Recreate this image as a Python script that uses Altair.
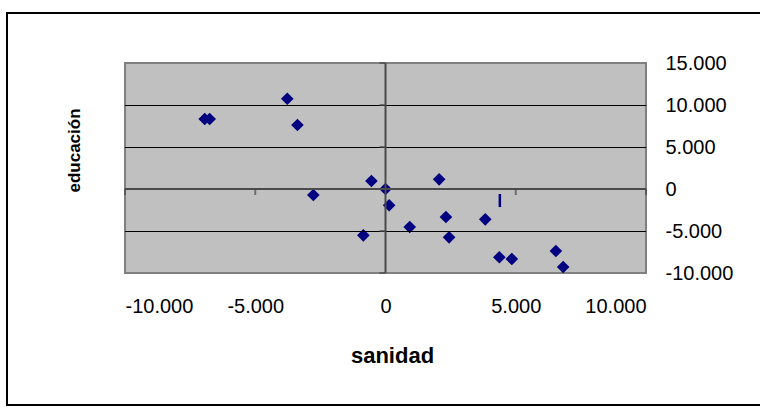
import altair as alt
import pandas as pd

# data
sanidad = [-6940, -6750, -3770, -3380, -2770, -540, 0, 140, 930, -850,
           2060, 2320, 2440, 3830, 4370, 4850, 6540, 6820]
educacion = [8330, 8330, 10750, 7620, -710, 950, 0, -1940, -4520, -5520,
             1150, -3330, -5750, -3610, -8130, -8330, -7380, -9290]
x_ticks = [-10000, -5000, 0, 5000, 10000]
y_ticks = [-10000, -5000, 0, 5000, 10000, 15000]
grid_y = [-5000, 5000, 10000]
# small vertical bar drawn in the plot
bar_x = [4390]
bar_y1 = [-600]
bar_y2 = [-2150]

pts = pd.DataFrame({"sanidad": sanidad, "educacion": educacion})
grid_df = pd.DataFrame({"educacion": grid_y})
xt_df = pd.DataFrame({"sanidad": [v for v in x_ticks if v != 0], "educacion": 0})
yt_df = pd.DataFrame({"educacion": [v for v in y_ticks if v != 0], "sanidad": 0})
bar_df = pd.DataFrame({"sanidad": bar_x, "educacion": bar_y1, "educacion2": bar_y2})
zero_x = pd.DataFrame({"sanidad": [0]})
zero_y = pd.DataFrame({"educacion": [0]})
frame_df = pd.DataFrame({"a": [0]})

FONT = "Liberation Sans"
xs = alt.Scale(domain=[-10000, 10000], nice=False, zero=False)
ys = alt.Scale(domain=[-10000, 15000], nice=False, zero=False)

lbl = "(datum.value < 0 ? '-' : '') + replace(format(abs(datum.value), ','), ',', '.')"

x_axis = alt.Axis(values=x_ticks, labelExpr=lbl, domain=False, ticks=False, grid=False,
                  labelFont=FONT, labelFontSize=20, labelColor="#000000", labelPadding=23,
                  title="sanidad", titleFont=FONT, titleFontSize=22, titleFontWeight="bold",
                  titleColor="#000000", titleX=267, titleY=89, titleBaseline="alphabetic",
                  titleAlign="center")
y_axis = alt.Axis(values=y_ticks, labelExpr=lbl, orient="right", domain=False, ticks=False,
                  grid=False, labelFont=FONT, labelFontSize=20, labelColor="#000000",
                  labelPadding=19, labelAlign="left",
                  title="educación", titleFont=FONT, titleFontSize=17, titleFontWeight="bold",
                  titleColor="#000000", titleAngle=270, titleX=-567, titleY=87,
                  titleBaseline="alphabetic", titleAlign="center")


def X():
    return alt.X("sanidad:Q", scale=xs, axis=x_axis)


def Y():
    return alt.Y("educacion:Q", scale=ys, axis=y_axis)


points = alt.Chart(pts).mark_point(shape="diamond", filled=True, size=160, color="#000080",
                                   opacity=1).encode(x=X(), y=Y())

grid = alt.Chart(grid_df).mark_rule(color="#000000", strokeWidth=1, yOffset=0.5).encode(y=Y())

zero_h = alt.Chart(zero_y).mark_rule(color="#4a4a4a", strokeWidth=2).encode(y=Y())
zero_v = alt.Chart(zero_x).mark_rule(color="#4a4a4a", strokeWidth=2).encode(x=X())

xt = alt.Chart(xt_df).mark_tick(orient="vertical", size=6, yOffset=3, thickness=2,
                                color="#4a4a4a").encode(x=X(), y=Y())
yt = alt.Chart(yt_df).mark_tick(orient="horizontal", size=6, xOffset=-3, thickness=2,
                                color="#4a4a4a").encode(x=X(), y=Y())

bar = alt.Chart(bar_df).mark_rule(color="#000080", strokeWidth=2.5).encode(
    x=X(), y=Y(), y2="educacion2:Q")

# outer chart frame (open on the right, as in the reference)
frame_left = alt.Chart(frame_df).mark_rect(color="#000000", clip=False).encode(
    x=alt.value(-119), x2=alt.value(-117), y=alt.value(-51), y2=alt.value(343))
frame_top = alt.Chart(frame_df).mark_rect(color="#000000", clip=False).encode(
    x=alt.value(-119), x2=alt.value(640), y=alt.value(-51), y2=alt.value(-49))
frame_bottom = alt.Chart(frame_df).mark_rect(color="#000000", clip=False).encode(
    x=alt.value(-119), x2=alt.value(640), y=alt.value(341), y2=alt.value(343))

chart = alt.layer(points, grid, zero_h, zero_v, xt, yt, bar,
                  frame_left, frame_top, frame_bottom).properties(
    width=521, height=210,
    autosize=alt.AutoSizeParams(type="none"),
    padding={"left": 125, "top": 63, "right": 114, "bottom": 135},
    background="#FFFFFF",
).configure_view(fill="#C0C0C0", stroke="#808080", strokeWidth=2)

chart.save("out.html", embed_options={"renderer": "svg", "actions": False})
